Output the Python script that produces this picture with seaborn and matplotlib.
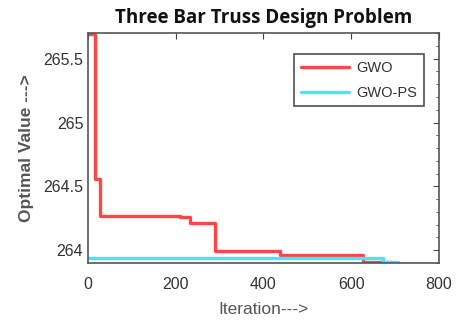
import pandas as pd
import matplotlib.pyplot as plt
import seaborn as sns
from matplotlib.ticker import MultipleLocator

# values (step curves, breakpoints)
gwo_iter = [0, 16, 28, 210, 232, 290, 437, 627, 690]
gwo_val = [265.69, 264.56, 264.27, 264.26, 264.21, 263.995, 263.96, 263.905, 263.905]
ps_iter = [0, 672, 706]
ps_val = [263.94, 263.905, 263.905]

df = pd.concat([
    pd.DataFrame({"Iteration": gwo_iter, "Value": gwo_val, "Algo": "GWO"}),
    pd.DataFrame({"Iteration": ps_iter, "Value": ps_val, "Algo": "GWO-PS"}),
])

sns.set_style("white")
plt.rcParams["font.family"] = ["Liberation Sans", "DejaVu Sans"]

fig = plt.figure(figsize=(4.59, 3.25), dpi=100)
ax = fig.add_axes([0.192, 0.191, 0.764, 0.707])

sns.lineplot(data=df, x="Iteration", y="Value", hue="Algo",
             palette={"GWO": "#ff4545", "GWO-PS": "#45e8f2"},
             drawstyle="steps-post", linewidth=2.4, ax=ax, estimator=None)

ax.set_xlim(0, 800)
ax.set_ylim(263.9, 265.7)
ax.set_xticks([0, 200, 400, 600, 800])
ax.set_yticks([264, 264.5, 265, 265.5])
ax.set_yticklabels(["264", "264.5", "265", "265.5"])
ax.yaxis.set_minor_locator(MultipleLocator(0.1))
ax.tick_params(which="both", direction="in", top=True, right=True,
               colors="#444444", labelcolor="#333333", labelsize=11.5)
ax.tick_params(which="major", length=4)
ax.tick_params(which="minor", length=2.5)
ax.tick_params(axis="x", pad=10)
for s in ax.spines.values():
    s.set_color("#555555")
    s.set_linewidth(1.2)

ax.set_xlabel("Iteration--->", color="#555555", fontsize=12.5, labelpad=7)
ax.set_ylabel("Optimal Value --->", color="#555555", fontsize=12.5,
              fontweight="bold", labelpad=7)
ax.set_title("Three Bar Truss Design Problem", fontsize=13.5, fontweight="bold",
             family=["Open Sans", "DejaVu Sans"], color="#111111", pad=7)

leg = ax.legend(loc="upper right", bbox_to_anchor=(0.978, 0.94), fontsize=10.5,
                frameon=True, fancybox=False, edgecolor="#222222",
                handlelength=3.3, handletextpad=0.5, borderpad=0.45,
                labelspacing=0.75)
leg.get_frame().set_linewidth(1.2)
for t in leg.get_texts():
    t.set_color("#333333")

fig.savefig("out.png", dpi=100)
